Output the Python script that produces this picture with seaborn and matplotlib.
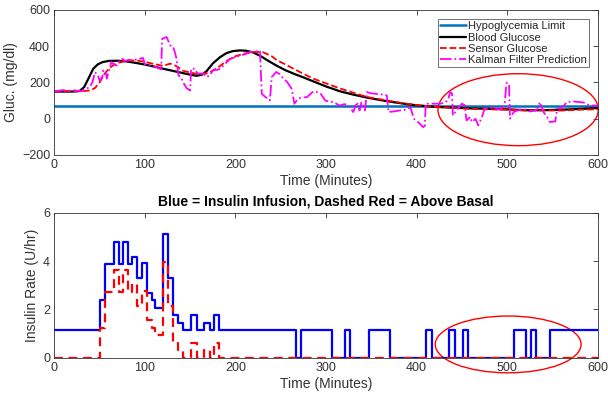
import matplotlib
matplotlib.use("Agg")
import matplotlib.pyplot as plt
from matplotlib.patches import Ellipse
import seaborn as sns

# --- glucose (mg/dl) ---
HYPO = 70
T_BG = [0, 10, 20, 28, 33, 38, 43, 48, 53, 60, 70, 80, 90, 100, 110, 120, 130, 140, 150, 157,
        163, 168, 175, 183, 190, 197, 205, 212, 220, 228, 236, 245, 255, 265, 275, 285, 300,
        315, 330, 345, 360, 375, 390, 400, 420, 440, 460, 480, 500, 520, 540, 560, 580, 600]
BG = [150, 150, 150, 153, 175, 225, 276, 300, 312, 319, 320, 316, 308, 299, 288, 276, 265, 254,
      243, 237, 243, 262, 305, 340, 362, 373, 377, 375, 365, 345, 320, 294, 268, 247, 228, 208,
      178, 152, 133, 117, 103, 91, 80, 74, 66, 61, 57, 55, 52, 47, 47, 50, 54, 59]

T_SG = [0, 10, 20, 30, 40, 45, 50, 55, 60, 65, 70, 80, 90, 100, 110, 120, 128, 135, 142, 150,
        160, 170, 180, 190, 200, 210, 220, 230, 240, 246, 255, 264, 275, 286, 300, 315, 328,
        345, 367, 382, 404, 420, 440, 460, 480, 500, 520, 540, 560, 580, 600]
SG = [150, 153, 151, 152, 156, 170, 200, 245, 275, 295, 308, 320, 322, 314, 302, 292, 304, 290,
      265, 255, 245, 252, 280, 318, 345, 360, 368, 368, 345, 322, 300, 276, 248, 221, 195, 168,
      147, 120, 101, 88, 73, 66, 60, 55, 52, 50, 46, 47, 45, 50, 52]

T_KF = [0, 5, 10, 15, 20, 25, 30, 35, 39, 42, 45, 48, 50, 53, 54, 57, 58, 60, 63, 66, 69, 72,
        75, 78, 82, 87, 92, 98, 100, 102, 108, 113, 118, 119, 124, 128, 131, 133, 135, 137, 140,
        142, 146, 150, 151, 155, 158, 161, 165, 168, 172, 175, 180, 183, 188, 194, 200, 205, 210,
        216, 222, 227, 229, 233, 238, 240, 245, 249, 253, 257, 262, 265, 269, 272, 279, 286, 290,
        294, 299, 303, 308, 315, 320, 323, 327, 330, 334, 337, 339, 343, 345, 350, 354, 360, 367,
        369, 374, 382, 389, 393, 397, 402, 407, 409, 410, 415, 426, 432, 435, 437, 439, 440, 444,
        450, 453, 455, 459, 461, 465, 468, 472, 475, 485, 492, 497, 499, 500, 502, 503, 507, 511,
        518, 525, 533, 536, 540, 544, 547, 553, 555, 560, 566, 573, 584, 591, 600]
KF = [150, 155, 158, 153, 157, 155, 152, 165, 175, 200, 257, 240, 211, 230, 267, 250, 221, 260,
      313, 300, 294, 320, 331, 318, 325, 322, 330, 335, 300, 294, 290, 285, 272, 441, 451, 404,
      400, 368, 330, 239, 230, 203, 169, 156, 276, 276, 250, 248, 250, 230, 240, 267, 270, 276,
      300, 331, 340, 349, 355, 368, 370, 377, 138, 120, 101, 230, 258, 245, 221, 203, 166, 83,
      110, 115, 120, 151, 147, 138, 101, 95, 92, 73, 80, 78, 60, 37, 92, 46, 90, 46, 147, 140,
      138, 135, 129, 37, 40, 46, 50, 64, 0, -20, -46, -40, 83, 83, 83, 90, 110, 147, 140, 18,
      46, 83, 75, -9, 10, -18, 0, -37, 9, 55, 64, 50, 73, 193, 200, 185, 0, 37, 45, 55, 40, 50,
      92, 37, 9, -18, -15, 55, 60, 92, 95, 90, 73, 73]

# --- insulin (U/hr), step changes ---
T_INS = [0, 50.5, 56, 66, 71.5, 76, 81.5, 86, 91, 96.5, 102, 107.5, 111, 120.5, 126, 131.5, 137,
         142, 151, 157, 165, 172, 176.5, 182, 267, 272.5, 306, 321, 326.5, 347, 371, 410.5, 417,
         436, 442.5, 451, 456.5, 507, 521, 526.5, 532, 547, 600]
INS = [1.15, 2.38, 3.87, 4.77, 3.87, 4.77, 3.87, 4.18, 3.28, 3.9, 2.69, 2.39, 2.07, 5.1, 3.28,
       1.77, 1.45, 1.15, 1.77, 1.15, 1.45, 1.15, 1.77, 1.15, 0, 1.15, 0, 1.15, 0, 1.15, 0, 1.15,
       0, 1.15, 0, 1.15, 0, 1.15, 0, 1.15, 0, 1.15, 1.15]
T_ABV = [0, 50.5, 56, 66, 71.5, 76, 81.5, 86, 91, 96.5, 102, 107.5, 111, 120.5, 126, 131.5, 137,
         142, 151, 157, 165, 172, 176.5, 182, 600]
ABV = [0, 1.23, 2.72, 3.62, 2.72, 3.62, 2.72, 3.03, 2.13, 2.75, 1.54, 1.24, 0.92, 3.95, 2.13,
       0.62, 0.30, 0, 0.62, 0, 0.30, 0, 0.62, 0, 0]

sns.set_theme(style="white")
plt.rcParams['font.family'] = ['Liberation Sans', 'DejaVu Sans']
ink = '#333333'
plt.rcParams.update({'xtick.direction': 'in', 'ytick.direction': 'in',
                     'xtick.top': True, 'ytick.right': True,
                     'xtick.color': ink, 'ytick.color': ink,
                     'axes.edgecolor': ink, 'axes.linewidth': 0.6,
                     'axes.labelcolor': ink})

fig = plt.figure(figsize=(6.08, 3.93), dpi=100)
ax1 = fig.add_axes([0.0893, 0.6056, 0.894, 0.369])
ax2 = fig.add_axes([0.0893, 0.0898, 0.894, 0.369])

ax1.axhline(HYPO, color='#0072BD', lw=1.8, label='Hypoglycemia Limit')
sns.lineplot(x=T_BG, y=BG, ax=ax1, color='black', lw=1.6, estimator=None, sort=False,
             label='Blood Glucose')
sns.lineplot(x=T_SG, y=SG, ax=ax1, color='red', lw=1.3, estimator=None, sort=False,
             linestyle='--', label='Sensor Glucose')
sns.lineplot(x=T_KF, y=KF, ax=ax1, color='magenta', lw=1.3, estimator=None, sort=False,
             linestyle='-.', label='Kalman Filter Prediction')
ax1.add_patch(Ellipse((512, 50), 177, 397, fill=False, color='red', lw=1, clip_on=False))

ax1.set_xlim(0, 600)
ax1.set_ylim(-200, 600)
ax1.set_xticks(range(0, 601, 100))
ax1.set_yticks(range(-200, 601, 200))
ax1.set_xlabel('Time (Minutes)', fontsize=10, labelpad=2)
ax1.set_ylabel('Gluc. (mg/dl)', fontsize=10, labelpad=3)
leg = ax1.legend(loc='upper right', bbox_to_anchor=(0.984, 0.938), borderaxespad=0,
                 fontsize=8, frameon=True, fancybox=False, handlelength=2.3,
                 handletextpad=0.2, labelspacing=0.12, borderpad=0.2)
leg.get_frame().set_edgecolor(ink)
leg.get_frame().set_linewidth(0.6)

sns.lineplot(x=T_INS, y=INS, ax=ax2, color='blue', lw=1.6, estimator=None, sort=False,
             drawstyle='steps-post')
sns.lineplot(x=T_ABV, y=ABV, ax=ax2, color='red', lw=1.6, estimator=None, sort=False,
             drawstyle='steps-post', dashes=False, linestyle=(0, (4, 2.5)))
ax2.add_patch(Ellipse((501, 0.55), 161, 2.35, fill=False, color='red', lw=1, clip_on=False))
ax2.set_xlim(0, 600)
ax2.set_ylim(0, 6)
ax2.set_xticks(range(0, 601, 100))
ax2.set_yticks([0, 2, 4, 6])
ax2.set_xlabel('Time (Minutes)', fontsize=10, labelpad=2)
ax2.set_ylabel('Insulin Rate (U/hr)', fontsize=10, labelpad=3)
ax2.set_title('Blue = Insulin Infusion, Dashed Red = Above Basal', fontsize=10,
              fontweight='bold', color='black', pad=5)

for ax in (ax1, ax2):
    ax.tick_params(labelsize=9, length=3.5, width=0.6, pad=3)
    for s in ax.spines.values():
        s.set_visible(True)

fig.savefig('out.png', dpi=100)
